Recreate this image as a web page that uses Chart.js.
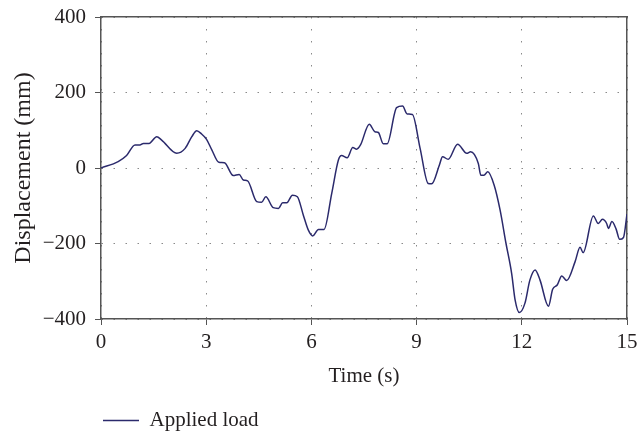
<!DOCTYPE html>
<html>
<head>
<meta charset="utf-8">
<script src="https://cdn.jsdelivr.net/npm/chart.js@4/dist/chart.umd.min.js"></script>
<style>
  html, body { margin: 0; padding: 0; background: #fff; }
  #wrap { width: 638px; height: 434px; }
</style>
</head>
<body>
<div id="wrap"><canvas id="dispChart" width="638" height="434"></canvas></div>
<script>
// displacement record, time in seconds, displacement in mm
const timeS = [
  0.00, 0.49, 0.73, 0.97, 1.11, 1.21, 1.37, 1.59, 1.73, 2.16,
  2.40, 2.59, 2.73, 2.87, 3.01, 3.16, 3.36, 3.52, 3.77, 3.94,
  4.06, 4.18, 4.44, 4.58, 4.70, 4.91, 5.06, 5.18, 5.30, 5.46,
  5.60, 5.77, 5.91, 6.04, 6.20, 6.36, 6.58, 6.77, 6.86, 7.02,
  7.18, 7.29, 7.40, 7.65, 7.81, 7.91, 8.05, 8.16, 8.43, 8.60,
  8.73, 8.88, 9.10, 9.33, 9.43, 9.65, 9.74, 9.90, 10.17, 10.43,
  10.54, 10.76, 10.83, 10.92, 11.03, 11.21, 11.38, 11.55, 11.71, 11.81,
  11.93, 12.09, 12.23, 12.38, 12.52, 12.76, 12.88, 13.01, 13.14, 13.28,
  13.52, 13.66, 13.75, 14.04, 14.18, 14.30, 14.42, 14.47, 14.57, 14.69,
  14.79, 14.90, 15.00
];
const displacementMm = [
  0, 17, 33, 61, 61, 65, 65, 83, 74, 39,
  52, 83, 99, 90, 76, 48, 15, 14, -20, -17,
  -32, -34, -89, -91, -76, -105, -107, -92, -92, -72,
  -76, -125, -164, -180, -163, -163, -67, 21, 33, 27,
  54, 50, 61, 116, 96, 94, 64, 64, 160, 164,
  143, 142, 52, -41, -42, 8, 30, 23, 63, 39,
  43, 12, -19, -19, -10, -45, -111, -200, -279, -350,
  -383, -358, -297, -270, -297, -366, -321, -310, -286, -298,
  -248, -210, -224, -127, -147, -136, -147, -160, -142, -162,
  -189, -184, -122
];
const xTicks = [0, 3, 6, 9, 12, 15];
const yTicks = [-400, -200, 0, 200, 400];
const seriesLabel = "Applied load";

const FONT = '"Liberation Serif", "DejaVu Serif", serif';
const TEXT = "#231f20";
const AXIS = "#555555";
const DOTS = "#8a8a8a";
const LINE = "#2b2a6c";

const points = timeS.map((t, i) => ({ x: t, y: displacementMm[i] }));

// fixed box sizes; drop the label overhang padding so the plot frame stays put
const fixSize = (w, h) => (s) => {
  if (w != null) s.width = w;
  if (h != null) s.height = h;
  s.paddingTop = s.paddingBottom = s.paddingLeft = s.paddingRight = 0;
};

new Chart(document.getElementById("dispChart"), {
  type: "line",
  data: {
    datasets: [{
      label: seriesLabel,
      data: points,
      borderColor: LINE,
      backgroundColor: LINE,
      borderWidth: 1.5,
      pointRadius: 0,
      cubicInterpolationMode: "monotone",
      fill: false,
    }],
  },
  options: {
    responsive: false,
    animation: false,
    devicePixelRatio: 1,
    layout: { padding: 0 },
    plugins: {
      tooltip: { enabled: false },
      legend: {
        position: "bottom",
        align: "start",
        fullSize: false,
        maxHeight: 26,
        labels: {
          usePointStyle: true,
          pointStyle: "line",
          pointStyleWidth: 36,
          padding: 2,
          color: TEXT,
          font: { family: FONT, size: 21 },
        },
      },
    },
    scales: {
      x: {
        type: "linear",
        min: 0,
        max: 15,
        afterBuildTicks: (s) => { s.ticks = xTicks.map((v) => ({ value: v })); },
        afterFit: fixSize(null, 89),
        ticks: { color: TEXT, padding: 5, maxRotation: 0, font: { family: FONT, size: 21 } },
        grid: { color: DOTS, lineWidth: 1, tickColor: AXIS, tickLength: 6 },
        border: { color: AXIS, width: 1.5, dash: [1.5, 10.5] },
        title: {
          display: true,
          text: "Time (s)",
          color: TEXT,
          font: { family: FONT, size: 21 },
          padding: { top: 0, bottom: 19 },
        },
      },
      y: {
        min: -400,
        max: 400,
        afterBuildTicks: (s) => { s.ticks = yTicks.map((v) => ({ value: v })); },
        afterFit: fixSize(101, null),
        ticks: {
          color: TEXT,
          padding: 9,
          font: { family: FONT, size: 21 },
          callback: (v) => String(v).replace("-", "\u2212"),
        },
        grid: { color: DOTS, lineWidth: 1, tickColor: AXIS, tickLength: 6 },
        border: { color: AXIS, width: 1.5, dash: [1.5, 10.5] },
        title: {
          display: true,
          text: "Displacement (mm)",
          color: TEXT,
          font: { family: FONT, size: 24 },
          padding: { top: 9, bottom: 0 },
        },
      },
      // frame lines on the top and right sides
      xTop: {
        type: "linear",
        position: "top",
        min: 0,
        max: 15,
        afterFit: fixSize(null, 17),
        ticks: { display: false },
        grid: { display: false, drawTicks: false },
        border: { display: true, color: AXIS, width: 1.5 },
      },
      yRight: {
        type: "linear",
        position: "right",
        min: -400,
        max: 400,
        afterFit: fixSize(11, null),
        ticks: { display: false },
        grid: { display: false, drawTicks: false },
        border: { display: true, color: AXIS, width: 1.5 },
      },
    },
  },
});
</script>
</body>
</html>
